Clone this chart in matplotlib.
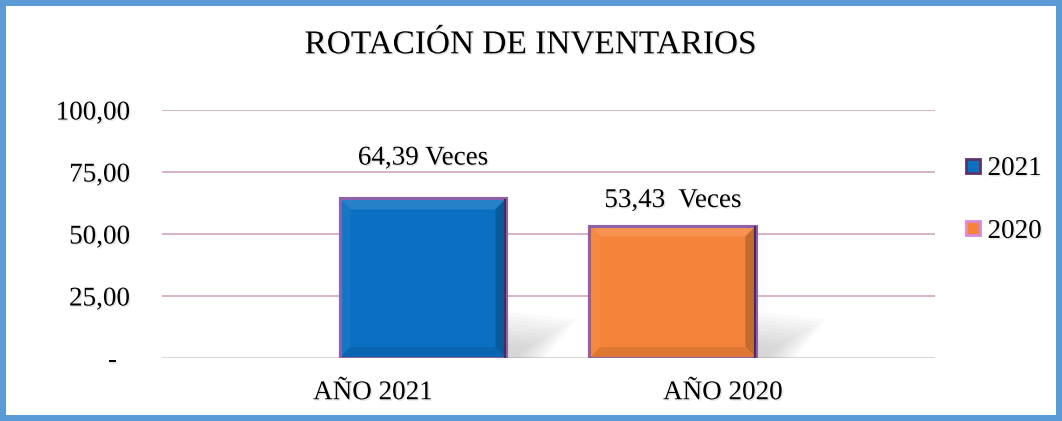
import matplotlib
matplotlib.use("Agg")
import matplotlib.pyplot as plt
from matplotlib.patches import Rectangle, Polygon
from matplotlib.lines import Line2D
import matplotlib.patheffects as pe

# datos del grafico
categorias = ["AÑO 2021", "AÑO 2020"]
series = ["2021", "2020"]
valores = [64.39, 53.43]
etiquetas = ["64,39 Veces", "53,43  Veces"]
yticks = [0, 25, 50, 75, 100]
ytick_labels = ["-  ", "25,00", "50,00", "75,00", "100,00"]

colores = ["#0A70C2", "#F5843A"]
bordes = ["#8E62A8", "#8E62A8"]
leyenda_bordes = ["#5A3468", "#D98AD8"]
desplaz = [0.143, -0.143]   # bars sit toward the middle
label_off = [20, 9]         # label offset above bar, points
ancho = 0.477

plt.rcParams["font.family"] = ["Liberation Serif", "DejaVu Serif"]
sombra_txt = [pe.SimplePatchShadow(offset=(1, -1), shadow_rgbFace="#aaaaaa", alpha=0.3),
              pe.Normal()]

fig = plt.figure(figsize=(10.62, 4.21), dpi=100)
fig.patch.set_facecolor("white")
fig.patch.set_edgecolor("#5B9BD5")
fig.patch.set_linewidth(7.5)

ax = fig.add_axes([0.1525, 0.1496, 0.7279, 0.5891])
ax.set_xlim(-0.603, 1.606)
ax.set_ylim(0, 100)

for y in yticks[1:]:
    ax.axhline(y, color="#D3ADC2", lw=1.3, zorder=0)
ax.axhline(0, color="#D9D9D9", lw=1.5, zorder=0)

# pixel -> data scale
px_x = (1.606 + 0.603) / (0.7279 * 1062)
px_y = 100 / (0.5891 * 421)


def mezcla(c, f):
    r, g, b = matplotlib.colors.to_rgb(c)
    if f > 0:
        return (r + (1 - r) * f, g + (1 - g) * f, b + (1 - b) * f)
    return (r * (1 + f), g * (1 + f), b * (1 + f))


for i, (v, c) in enumerate(zip(valores, colores)):
    x0 = i + desplaz[i] - ancho / 2
    x1 = x0 + ancho
    # soft shadow to the lower right
    for k in range(10):
        s = 1 - k * 0.08
        w = 70 * s * px_x
        h = 46 * s * px_y
        ax.add_patch(Polygon([(x1, 0), (x1, h), (x1 + w, h * 0.85), (x1 + w * 0.55, 0)],
                             closed=True, facecolor="#888888", alpha=0.035, lw=0, zorder=1))
    ax.bar(i + desplaz[i], v, width=ancho, color=c, edgecolor=bordes[i], lw=2.2, zorder=2)
    # bevel
    bx = 11 * px_x
    by = 11 * px_y
    ax.add_patch(Polygon([(x0, v), (x1, v), (x1 - bx, v - by), (x0 + bx, v - by)],
                         facecolor=mezcla(c, 0.12), lw=0, zorder=3))
    ax.add_patch(Polygon([(x0, 0), (x0, v), (x0 + bx, v - by), (x0 + bx, by)],
                         facecolor=mezcla(c, 0.04), lw=0, zorder=3))
    ax.add_patch(Polygon([(x1, 0), (x1, v), (x1 - bx, v - by), (x1 - bx, by)],
                         facecolor=mezcla(c, -0.2), lw=0, zorder=3))
    ax.add_patch(Polygon([(x0, 0), (x1, 0), (x1 - bx, by), (x0 + bx, by)],
                         facecolor=mezcla(c, -0.1), lw=0, zorder=3))
    ax.add_patch(Rectangle((x0, 0), ancho, v, facecolor="none", edgecolor=bordes[i],
                           lw=2.2, zorder=4))
    ax.plot([x1 - 0.004, x1 - 0.004], [0.5, v - 0.5], color="#4A2A5A", lw=1.5, zorder=5)
    ax.annotate(etiquetas[i], (i + desplaz[i], v), xytext=(0, label_off[i]),
                textcoords="offset points", ha="center", va="bottom",
                fontsize=19.5, color="black", path_effects=sombra_txt)

ax.set_xticks([0, 1])
ax.set_xticklabels(categorias, fontsize=19.5)
ax.set_yticks(yticks)
ax.set_yticklabels(ytick_labels, fontsize=19.5)
ax.tick_params(axis="both", length=0)
ax.tick_params(axis="y", pad=23)
ax.tick_params(axis="x", pad=16)
for lab in ax.get_xticklabels() + ax.get_yticklabels():
    lab.set_path_effects(sombra_txt)
for sp in ax.spines.values():
    sp.set_visible(False)

fig.text(0.5, 0.893, "ROTACIÓN DE INVENTARIOS", ha="center", va="center",
         fontsize=24, path_effects=sombra_txt)

handles = [Line2D([], [], marker="s", ls="none", markersize=10, markerfacecolor=colores[j],
                  markeredgecolor=leyenda_bordes[j], markeredgewidth=2) for j in range(2)]
leg = fig.legend(handles, series, loc="center left", bbox_to_anchor=(0.898, 0.525),
                 frameon=False, fontsize=19.5, handlelength=0.6, handletextpad=0.25,
                 labelspacing=1.4, borderaxespad=0)
for t in leg.get_texts():
    t.set_path_effects(sombra_txt)

fig.savefig("out.png", dpi=100, facecolor=fig.get_facecolor(), edgecolor=fig.get_edgecolor())
